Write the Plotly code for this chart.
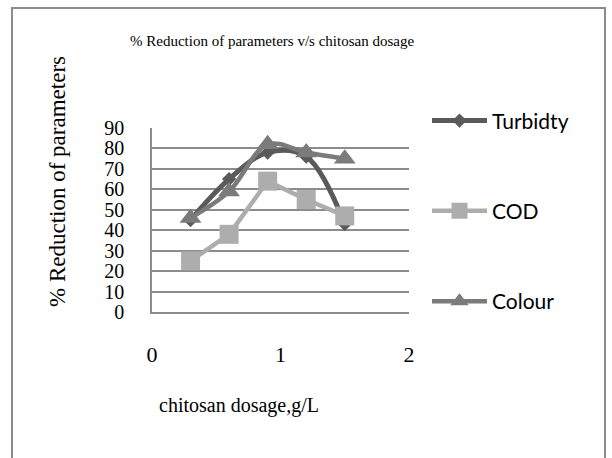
import plotly.graph_objects as go

dosage = [0.3, 0.6, 0.9, 1.2, 1.5]
turbidity = [45, 65, 78, 76, 43]
cod = [25, 38, 64, 55, 47]
colour = [46, 59, 82, 78, 75]

series_names = ["Turbidty", "COD", "Colour"]
title_text = "% Reduction of parameters v/s chitosan dosage"
x_title = "chitosan dosage,g/L"
y_title = "% Reduction of parameters"
x_ticks = [0, 1, 2]
y_ticks = list(range(0, 91, 10))

fig = go.Figure()
fig.add_trace(go.Scatter(
    x=dosage, y=turbidity, name=series_names[0], mode="lines+markers",
    line=dict(color="#5a5a5a", width=5, shape="spline", smoothing=1),
    marker=dict(symbol="diamond", size=11, color="#5a5a5a"),
    legendgroup="a"))
fig.add_trace(go.Scatter(
    x=dosage, y=cod, name=series_names[1], mode="lines+markers",
    line=dict(color="#adadad", width=4.5, shape="linear"),
    marker=dict(symbol="square", size=19, color="#adadad"),
    legendgroup="b"))
fig.add_trace(go.Scatter(
    x=dosage, y=colour, name=series_names[2], mode="lines+markers",
    line=dict(color="#7b7b7b", width=4.5, shape="spline", smoothing=1),
    marker=dict(symbol="triangle-up", size=19, color="#7b7b7b"),
    legendgroup="c"))

serif = "Liberation Serif"
fig.update_layout(
    width=612, height=458,
    margin=dict(l=152, r=203, t=128, b=146),
    paper_bgcolor="white", plot_bgcolor="white",
    showlegend=True,
    legend=dict(x=1.07, y=1.15, xanchor="left", yanchor="top",
                font=dict(family="Lato", size=21, color="black"),
                tracegroupgap=60, itemwidth=55, bgcolor="rgba(0,0,0,0)"),
    xaxis=dict(range=[0, 2], tickvals=x_ticks, showgrid=False, zeroline=False,
               showline=True, linecolor="#8c8c8c", linewidth=1.5,
               ticks="", ticklabelstandoff=22,
               tickfont=dict(family=serif, size=22, color="black")),
    yaxis=dict(range=[0, 90], tickvals=y_ticks, showgrid=True,
               gridcolor="#8c8c8c", gridwidth=1.5, zeroline=False,
               showline=True, linecolor="#8c8c8c", linewidth=1.5,
               ticks="", ticklabelstandoff=22,
               tickfont=dict(family=serif, size=20, color="black")),
    annotations=[
        dict(text=title_text, xref="paper", yref="paper",
             x=(272 - 152) / 257, y=(312 - 41) / 184, showarrow=False,
             xanchor="center", yanchor="middle",
             font=dict(family=serif, size=15, color="black")),
        dict(text=x_title, xref="paper", yref="paper",
             x=(239 - 152) / 257, y=(312 - 405) / 184, showarrow=False,
             xanchor="center", yanchor="middle",
             font=dict(family=serif, size=20, color="black")),
        dict(text=y_title, xref="paper", yref="paper", textangle=-90,
             x=(57 - 152) / 257, y=(312 - 182) / 184, showarrow=False,
             xanchor="center", yanchor="middle",
             font=dict(family=serif, size=23, color="black")),
    ],
    shapes=[
        dict(type="rect", xref="paper", yref="paper",
             x0=(12 - 152) / 257, x1=(605 - 152) / 257,
             y0=(312 - 470) / 184, y1=(312 - 8) / 184,
             line=dict(color="#8c8c8c", width=2), layer="below"),
    ],
)
fig.write_html("out.html")
